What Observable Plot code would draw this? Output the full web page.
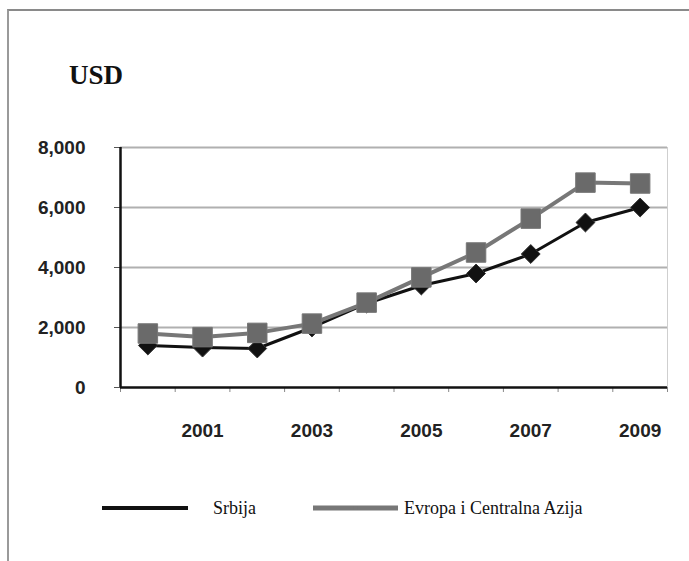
<!DOCTYPE html>
<html>
<head>
<meta charset="utf-8">
<script src="https://cdn.jsdelivr.net/npm/d3@7"></script>
<script src="https://cdn.jsdelivr.net/npm/@observablehq/plot@0.6"></script>
<style>
  html, body { margin: 0; padding: 0; background: #fff; }
  #page { position: relative; width: 689px; height: 561px; overflow: hidden; background: #fff; }
  #frame { position: absolute; left: 7px; top: 9px; right: -10px; bottom: -10px;
           border-top: 2px solid #8a8a8a; border-left: 2px solid #9a9a9a; }
  #title { position: absolute; left: 69px; top: 60px; font-family: "Liberation Serif", "Times New Roman", serif;
           font-size: 27px; font-weight: bold; line-height: 30px; color: #111; }
  #chart { position: absolute; left: 0; top: 100px; }
  .leg { position: absolute; top: 497px; height: 22px; display: flex; align-items: center;
         font-family: "Liberation Serif", "Times New Roman", serif; font-size: 18px; color: #111; }
  .leg svg { display: block; }
</style>
</head>
<body>
<div id="page">
  <div id="frame"></div>
  <div id="title">USD</div>
  <div id="chart"></div>
  <div class="leg" id="leg1" style="left:102px"></div>
  <div class="leg" id="leg2" style="left:313px"></div>
</div>
<script>
const years = [2000, 2001, 2002, 2003, 2004, 2005, 2006, 2007, 2008, 2009];
const srbija = [1400, 1330, 1300, 2000, 2800, 3400, 3800, 4450, 5500, 6000];
const evropa = [1800, 1680, 1820, 2130, 2830, 3670, 4500, 5630, 6830, 6800];
const yTicks = [0, 2000, 4000, 6000, 8000];
const xTickLabels = [2001, 2003, 2005, 2007, 2009];
const seriesNames = ["Srbija", "Evropa i Centralna Azija"];

const colSrb = "#111111";
const colEvr = "#6a6a6a";

const rowsS = years.map((y, i) => ({year: y, value: srbija[i]}));
const rowsE = years.map((y, i) => ({year: y, value: evropa[i]}));
const bounds = [...years.map(y => y - 0.5), years[years.length - 1] + 0.5];
const fmt = d3.format(",");

const plot = Plot.plot({
  width: 689,
  height: 365,
  marginLeft: 120,
  marginRight: 22,
  marginTop: 47,
  marginBottom: 78,
  style: {fontFamily: "'Liberation Sans', Arial, sans-serif", fontSize: "19px", fontWeight: "bold", color: "#222", background: "transparent", overflow: "visible"},
  x: {domain: [bounds[0], bounds[bounds.length - 1]], axis: null, label: null},
  y: {domain: [0, 8000], axis: null, label: null},
  marks: [
    Plot.ruleY(yTicks.filter(d => d > 0), {stroke: "#b0b0b0", strokeWidth: 1.8}),
    Plot.ruleX([bounds[bounds.length - 1]], {y1: 0, y2: 8000, stroke: "#cfcfcf", strokeWidth: 1}),
    Plot.axisY({ticks: yTicks, tickFormat: fmt, tickSize: 6, tickPadding: 29, stroke: "#555", strokeWidth: 1, label: null}),
    Plot.axisX({ticks: bounds, tickFormat: () => "", tickSize: 5, stroke: "#888", label: null}),
    Plot.axisX({ticks: xTickLabels, tickFormat: d => String(d), tickSize: 0, tickPadding: 36, label: null}),
    Plot.ruleY([0], {stroke: "#111", strokeWidth: 2.5}),
    Plot.ruleX([bounds[0]], {y1: 0, y2: 8000, stroke: "#111", strokeWidth: 2.5}),
    Plot.line(rowsS, {x: "year", y: "value", stroke: colSrb, strokeWidth: 3}),
    Plot.dot(rowsS, {x: "year", y: "value", symbol: "diamond2", r: 8.5, fill: colSrb, stroke: "#333", strokeWidth: 1}),
    Plot.line(rowsE, {x: "year", y: "value", stroke: "#777", strokeWidth: 4}),
    Plot.dot(rowsE, {x: "year", y: "value", symbol: "square", r: 11, fill: colEvr, stroke: "#777", strokeWidth: 1})
  ]
});
document.getElementById("chart").appendChild(plot);

function swatch(color, w, sw) {
  return `<svg width="${w}" height="22"><line x1="0" x2="${w}" y1="11" y2="11" stroke="${color}" stroke-width="${sw}"/><rect x="${w/2-2}" y="9" width="4" height="4" fill="${color}"/></svg>`;
}
document.getElementById("leg1").innerHTML = swatch(colSrb, 86, 4) + `<span style="margin-left:25px">${seriesNames[0]}</span>`;
document.getElementById("leg2").innerHTML = swatch("#777", 85, 5) + `<span style="margin-left:6px">${seriesNames[1]}</span>`;
</script>
</body>
</html>
